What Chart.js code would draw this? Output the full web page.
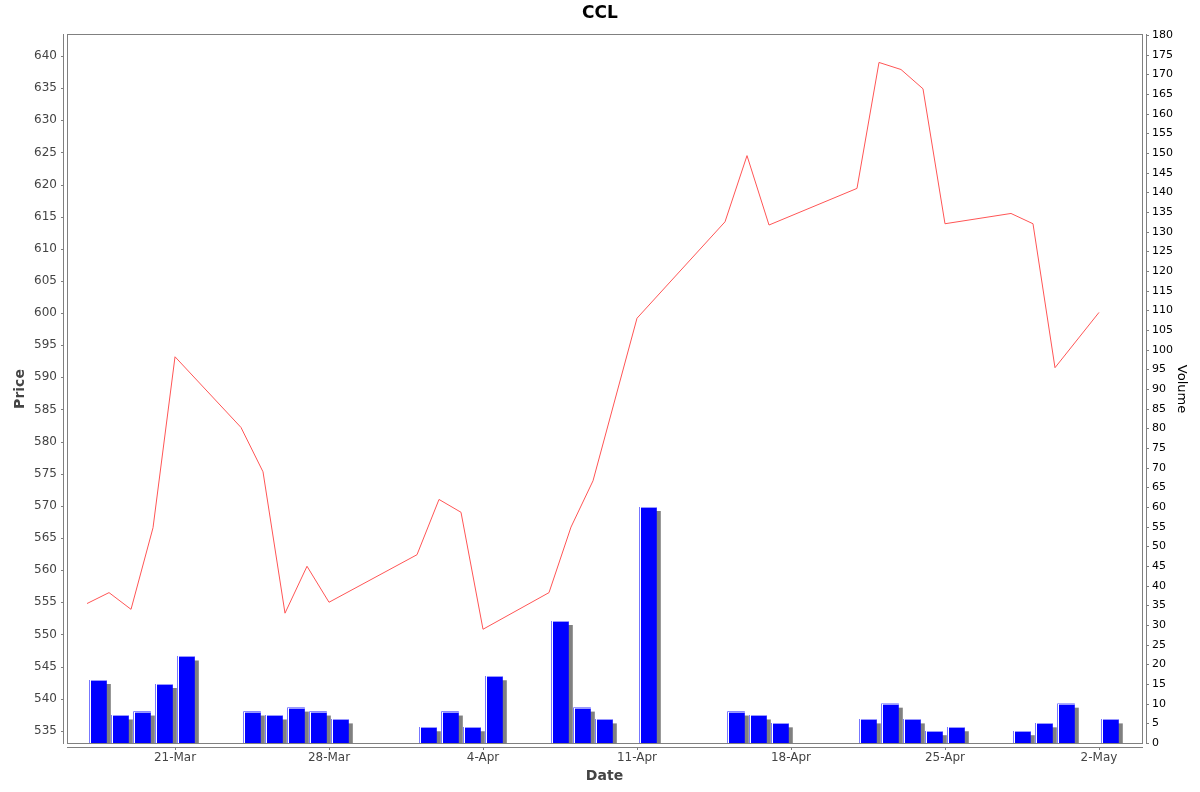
<!DOCTYPE html>
<html>
<head>
<meta charset="utf-8">
<title>CCL</title>
<script src="https://cdn.jsdelivr.net/npm/chart.js@4.4.1/dist/chart.umd.min.js"></script>
<style>
    html, body { margin: 0; padding: 0; background: #ffffff; }
    #wrap { width: 1200px; height: 792px; }
</style>
</head>
<body>
<div id="wrap"><canvas id="chart"></canvas></div>
<script>
// CCL daily price and volume (2014)
const dates = [
    '2014-03-17', '2014-03-18', '2014-03-19', '2014-03-20', '2014-03-21',
    '2014-03-24', '2014-03-25', '2014-03-26', '2014-03-27', '2014-03-28',
    '2014-04-01', '2014-04-02', '2014-04-03', '2014-04-04',
    '2014-04-07', '2014-04-08', '2014-04-09', '2014-04-11',
    '2014-04-15', '2014-04-16', '2014-04-17',
    '2014-04-21', '2014-04-22', '2014-04-23', '2014-04-24', '2014-04-25',
    '2014-04-28', '2014-04-29', '2014-04-30', '2014-05-02'
];
const prices = [
    554.8, 556.5, 553.9, 566.6, 593.2,
    582.2, 575.3, 553.3, 560.6, 555.0,
    562.4, 571.0, 569.0, 550.8,
    556.5, 566.7, 573.9, 599.2,
    614.2, 624.5, 613.7,
    619.4, 639.0, 637.9, 634.9, 613.9,
    615.5, 613.9, 591.5, 600.1
];
const volumes = [
    16, 7, 8, 15, 22,
    8, 7, 9, 8, 6,
    4, 8, 4, 17,
    31, 9, 6, 60,
    8, 7, 5,
    6, 10, 6, 3, 4,
    3, 5, 10, 6
];
const tickDates = ['2014-03-21', '2014-03-28', '2014-04-04', '2014-04-11', '2014-04-18', '2014-04-25', '2014-05-02'];
const monthNames = ['Jan', 'Feb', 'Mar', 'Apr', 'May', 'Jun', 'Jul', 'Aug', 'Sep', 'Oct', 'Nov', 'Dec'];

function dayNum(s) {
    return Date.parse(s) / 864e5;
}

function dayLabel(v) {
    const d = new Date(v * 864e5);
    return d.getUTCDate() + '-' + monthNames[d.getUTCMonth()];
}

const xMin = dayNum(dates[0]) - 0.91;
const xMax = dayNum(dates[dates.length - 1]) + 1.955;

const FONT = "'DejaVu Sans', sans-serif";
const AXIS = '#808080';

// plot outline, offset axis lines, tick marks, bar shadow and highlight
const framePlugin = {
    id: 'frame',
    beforeDatasetDraw(chart, args) {
        if (chart.data.datasets[args.index].type !== 'bar') return;
        const c = chart.ctx;
        c.save();
        c.shadowColor = '#808080';
        c.shadowOffsetX = 4;
        c.shadowOffsetY = 4;
        c.shadowBlur = 0;
    },
    afterDatasetDraw(chart, args) {
        if (chart.data.datasets[args.index].type !== 'bar') return;
        const c = chart.ctx;
        c.restore();
        c.save();
        args.meta.data.forEach(bar => {
            const p = bar.getProps(['x', 'y', 'base', 'width'], true);
            const l = Math.round(p.x - p.width / 2);
            const top = Math.round(p.y);
            const h = Math.round(p.base) - top;
            c.fillStyle = '#7777ff';
            c.fillRect(l, top, 1, h);
            c.fillStyle = '#ffffff';
            c.fillRect(l + 1, top, 1, h);
            c.fillStyle = '#9999ff';
            c.fillRect(l + 2, top, Math.round(p.width) - 2, 1);
        });
        c.restore();
    },
    afterDraw(chart) {
        const c = chart.ctx;
        const a = chart.chartArea;
        c.save();
        c.strokeStyle = AXIS;
        c.lineWidth = 1;
        // plot outline
        c.strokeRect(a.left + 0.5, a.top - 0.5, a.right - a.left, a.bottom - a.top + 1);
        // left axis
        const yl = chart.scales.y;
        const lx = a.left - 3.5;
        c.beginPath();
        c.moveTo(lx, a.top - 1);
        c.lineTo(lx, a.bottom + 1);
        yl.ticks.forEach(t => {
            const py = Math.round(yl.getPixelForValue(t.value)) + 0.5;
            c.moveTo(lx - 2.5, py);
            c.lineTo(lx, py);
        });
        // right axis
        const yr = chart.scales.yv;
        const rx = a.right + 4.5;
        c.moveTo(rx, a.top - 1);
        c.lineTo(rx, a.bottom + 1);
        yr.ticks.forEach(t => {
            const py = Math.round(yr.getPixelForValue(t.value)) + 0.5;
            c.moveTo(rx, py);
            c.lineTo(rx + 2.5, py);
        });
        // bottom axis
        const xs = chart.scales.x;
        const by = a.bottom + 4.5;
        c.moveTo(a.left, by);
        c.lineTo(a.right + 1, by);
        xs.ticks.forEach(t => {
            const px = Math.round(xs.getPixelForValue(t.value)) + 0.5;
            c.moveTo(px, by);
            c.lineTo(px, by + 2.5);
        });
        c.stroke();
        c.restore();
    }
};

function drawChart() {
    const priceData = dates.map((d, i) => ({ x: dayNum(d), y: prices[i] }));
    const volumeData = dates.map((d, i) => ({ x: dayNum(d), y: volumes[i] }));

    const ctx = document.getElementById('chart').getContext('2d');
    const chart = new Chart(ctx, {
        data: {
            datasets: [
                {
                    type: 'line',
                    label: 'Price',
                    data: priceData,
                    xAxisID: 'x',
                    yAxisID: 'y',
                    borderColor: '#ff5555',
                    borderWidth: 1,
                    pointRadius: 0,
                    tension: 0,
                    order: 0
                },
                {
                    type: 'bar',
                    label: 'Volume',
                    data: volumeData,
                    xAxisID: 'xb',
                    yAxisID: 'yv',
                    backgroundColor: '#0000ff',
                    borderWidth: 0,
                    grouped: false,
                    categoryPercentage: 1,
                    barPercentage: 0.8,
                    clip: 0,
                    order: 1
                }
            ]
        },
        options: {
            responsive: true,
            maintainAspectRatio: false,
            devicePixelRatio: 1,
            animation: false,
            layout: { padding: 0 },
            plugins: {
                legend: { display: false },
                tooltip: { enabled: false },
                title: {
                    display: true,
                    text: 'CCL',
                    color: '#000000',
                    font: { family: FONT, size: 17, weight: 'bold' },
                    padding: { top: 3, bottom: 11.6 }
                }
            },
            scales: {
                x: {
                    type: 'linear',
                    position: 'bottom',
                    min: xMin,
                    max: xMax,
                    offset: false,
                    afterBuildTicks: axis => {
                        axis.ticks = tickDates.map(s => ({ value: dayNum(s) }));
                    },
                    afterFit: axis => { axis.height = 49; },
                    grid: { display: false, drawTicks: false, offset: false },
                    border: { display: false },
                    ticks: {
                        autoSkip: false,
                        maxRotation: 0,
                        padding: 7.5,
                        color: '#444444',
                        font: { family: FONT, size: 12 },
                        callback: v => dayLabel(v)
                    },
                    title: {
                        display: true,
                        text: 'Date',
                        color: '#444444',
                        font: { family: FONT, size: 14, weight: 'bold' },
                        padding: { top: 0, bottom: 7.6 }
                    }
                },
                // same dates, shifted half a day so each bar covers its trading day
                xb: {
                    type: 'linear',
                    position: 'bottom',
                    display: false,
                    offset: false,
                    bounds: 'data',
                    grid: { offset: false },
                    min: xMin - 0.5,
                    max: xMax - 0.5,
                    ticks: { includeBounds: false },
                    afterBuildTicks: axis => {
                        axis.ticks = tickDates.map(s => ({ value: dayNum(s) }));
                    }
                },
                y: {
                    type: 'linear',
                    position: 'left',
                    min: 533.1,
                    max: 643.27,
                    afterFit: axis => { axis.width = 67; },
                    grid: { display: false, drawTicks: false },
                    border: { display: false },
                    ticks: {
                        stepSize: 5,
                        includeBounds: false,
                        autoSkip: false,
                        padding: 10,
                        color: '#444444',
                        font: { family: FONT, size: 12 }
                    },
                    title: {
                        display: true,
                        text: 'Price',
                        color: '#444444',
                        font: { family: FONT, size: 14, weight: 'bold' },
                        padding: { top: 12, bottom: 0 }
                    }
                },
                yv: {
                    type: 'linear',
                    position: 'right',
                    min: 0,
                    max: 180,
                    afterFit: axis => { axis.width = 58; },
                    grid: { display: false, drawTicks: false },
                    border: { display: false },
                    ticks: {
                        stepSize: 5,
                        autoSkip: false,
                        padding: 10,
                        color: '#000000',
                        font: { family: FONT, size: 11 }
                    },
                    title: {
                        display: true,
                        text: 'Volume',
                        color: '#000000',
                        font: { family: FONT, size: 13 },
                        padding: { top: 11, bottom: 0 }
                    }
                }
            }
        },
        plugins: [framePlugin]
    });
}

drawChart();
</script>
</body>
</html>
